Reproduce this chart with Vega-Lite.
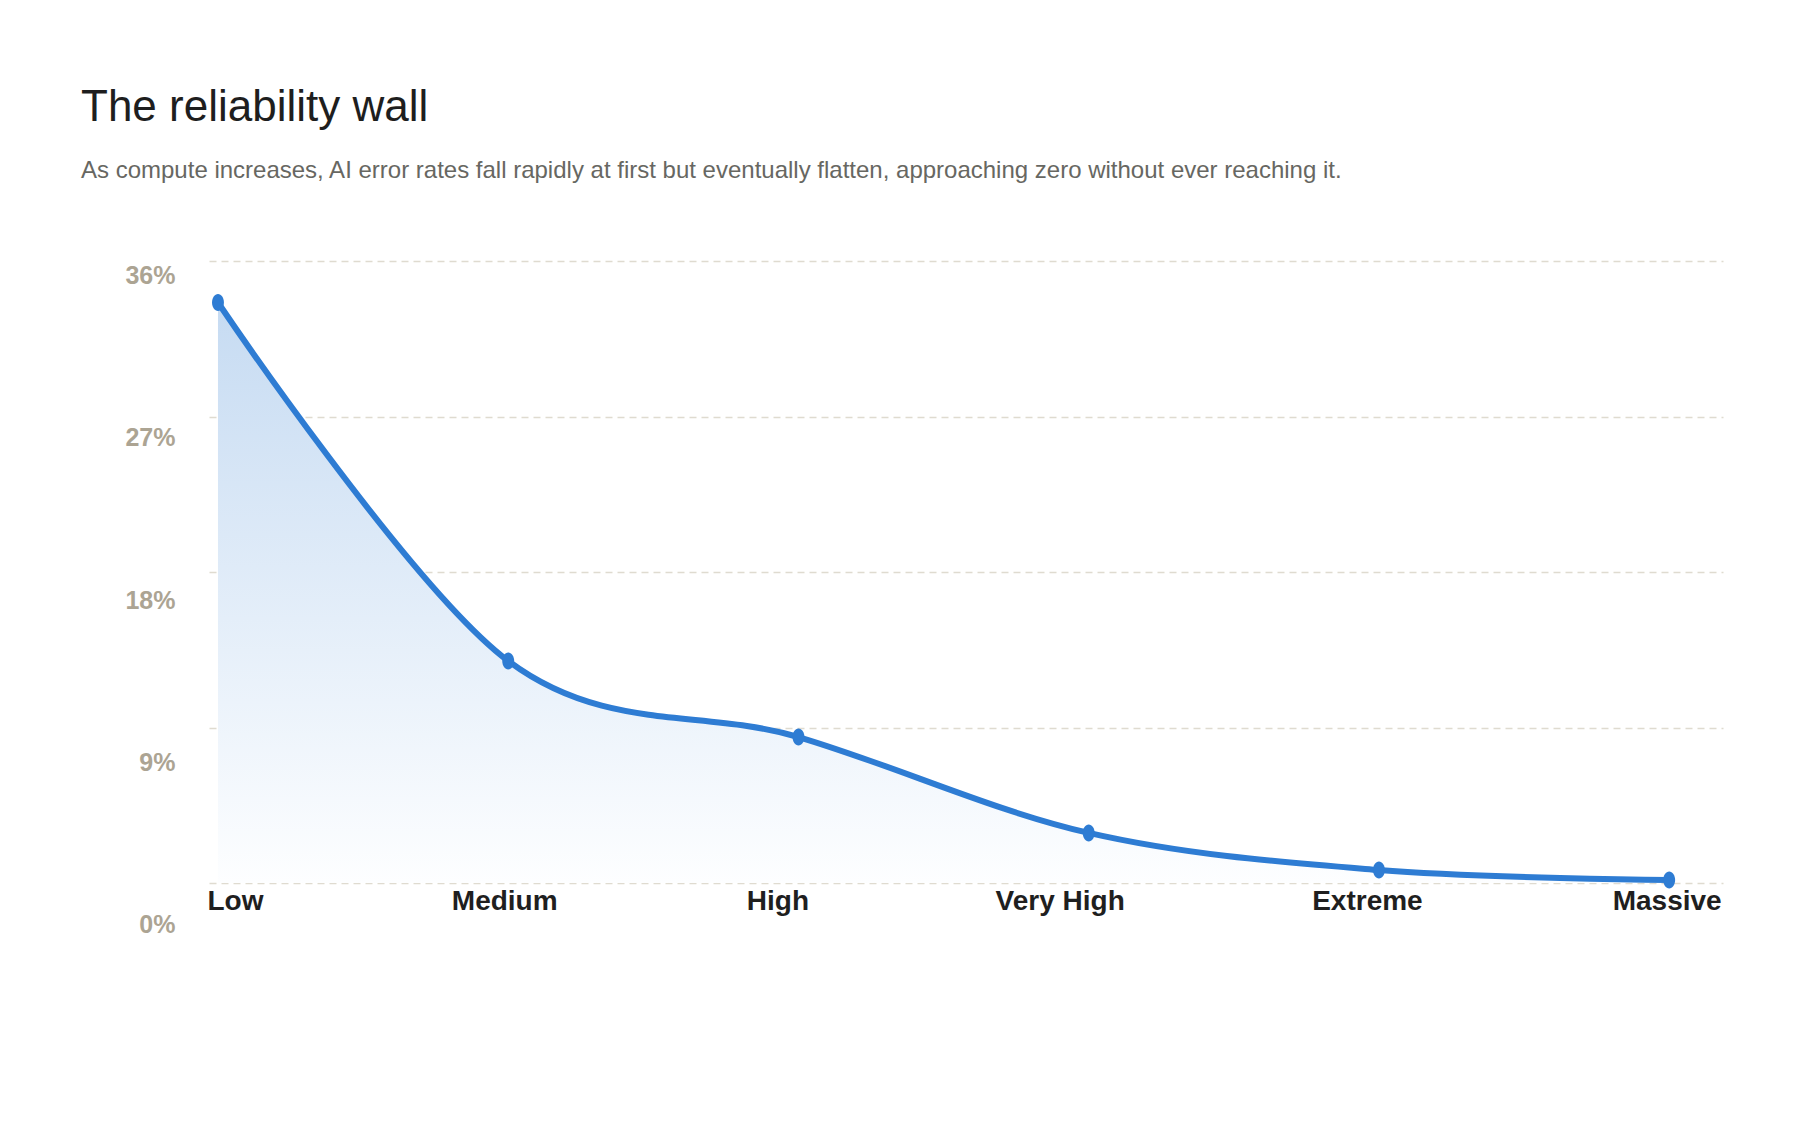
{
  "$schema": "https://vega.github.io/schema/vega-lite/v6.json",
  "width": 1514,
  "height": 622,
  "autosize": "none",
  "padding": {"left": 209, "top": 261, "right": 77, "bottom": 249},
  "background": "#ffffff",
  "title": {
    "text": "The reliability wall",
    "subtitle": "As compute increases, AI error rates fall rapidly at first but eventually flatten, approaching zero without ever reaching it.",
    "anchor": "start",
    "frame": "group",
    "dx": -128,
    "offset": 78,
    "font": "Liberation Sans",
    "fontSize": 44,
    "fontWeight": "normal",
    "color": "#1e1e1e",
    "subtitleFont": "Liberation Sans",
    "subtitleFontSize": 24,
    "subtitleColor": "#676762",
    "subtitlePadding": 29
  },
  "data": {
    "values": [
      {"compute": "Low", "error": 33.6},
      {"compute": "Medium", "error": 12.85},
      {"compute": "High", "error": 8.45},
      {"compute": "Very High", "error": 2.9},
      {"compute": "Extreme", "error": 0.75},
      {"compute": "Massive", "error": 0.17}
    ]
  },
  "encoding": {
    "x": {
      "field": "compute",
      "type": "nominal",
      "sort": null,
      "scale": {"type": "point", "padding": 0.1082, "align": 0.143},
      "axis": {
        "title": null,
        "domain": false,
        "ticks": false,
        "tickSize": 0,
        "grid": false,
        "labelAngle": 0,
        "labelFont": "Liberation Sans",
        "labelFontSize": 28,
        "labelFontWeight": "bold",
        "labelColor": "#1f1f1f",
        "labelBaseline": "alphabetic",
        "labelPadding": 26,
        "labelOverlap": false,
        "labelBound": false,
        "labelFlush": false,
        "labelAlign": {"expr": "datum.value == 'Low' ? 'left' : datum.value == 'Massive' ? 'right' : 'center'"},
        "labelOffset": {"expr": "datum.value == 'Low' ? -11 : datum.value == 'Medium' ? -4 : datum.value == 'High' ? -21 : datum.value == 'Very High' ? -29 : datum.value == 'Extreme' ? -12 : 52"}
      }
    },
    "y": {
      "field": "error",
      "type": "quantitative",
      "scale": {"domain": [0, 36], "nice": false},
      "axis": {
        "title": null,
        "values": [0, 9, 18, 27, 36],
        "labelExpr": "datum.value + '%'",
        "domain": false,
        "ticks": false,
        "tickSize": 0,
        "labelPadding": 34,
        "labelFont": "Liberation Sans",
        "labelFontSize": 25,
        "labelFontWeight": "bold",
        "labelColor": "#aca493",
        "labelBaseline": "middle",
        "labelOffset": {"expr": "14.5 + (36 - datum.value) * 0.75"},
        "gridColor": "#dfdbd0",
        "gridDash": [7, 5],
        "gridWidth": 1.5
      }
    }
  },
  "layer": [
    {
      "mark": {
        "type": "area",
        "interpolate": "cardinal",
        "color": {
          "gradient": "linear",
          "x1": 0, "y1": 0, "x2": 0, "y2": 1,
          "stops": [
            {"offset": 0, "color": "#c6dbf2"},
            {"offset": 1, "color": "#fdfeff"}
          ]
        }
      }
    },
    {
      "mark": {
        "type": "line",
        "interpolate": "cardinal",
        "color": "#2e7cd3",
        "strokeWidth": 6,
        "strokeCap": "round"
      }
    },
    {
      "mark": {
        "type": "point",
        "filled": true,
        "opacity": 1,
        "color": "#2e7cd3",
        "size": 289,
        "shape": "M -0.7,0 A 0.7,1 0 1,0 0.7,0 A 0.7,1 0 1,0 -0.7,0 Z"
      }
    }
  ],
  "config": {
    "view": {"stroke": null}
  }
}
